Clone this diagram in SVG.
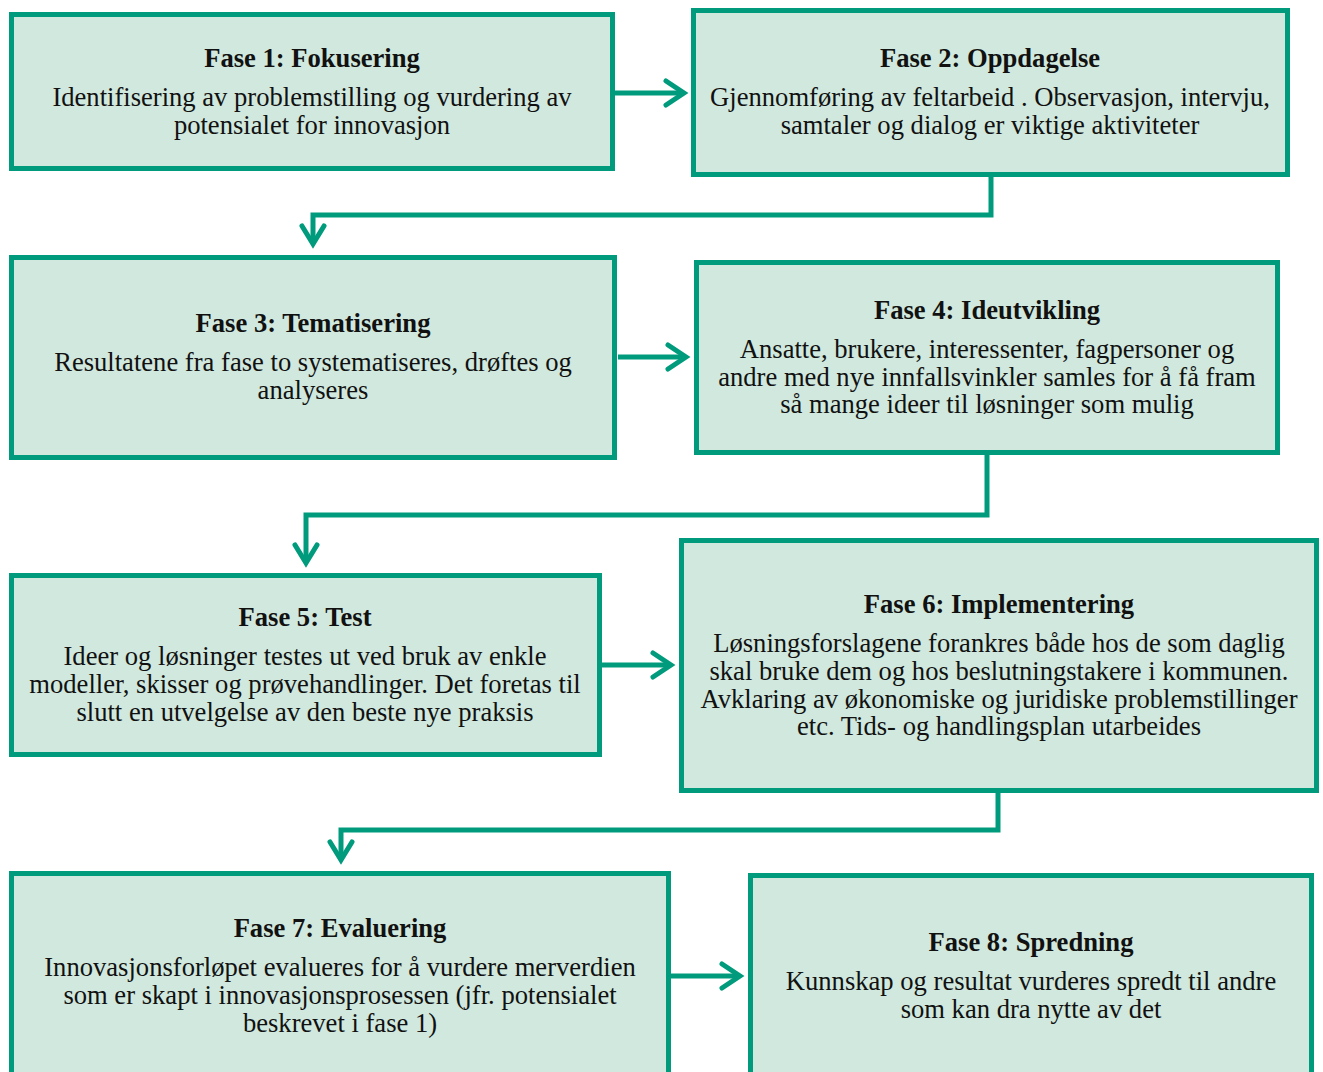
<svg xmlns="http://www.w3.org/2000/svg" width="1323" height="1072" viewBox="0 0 1323 1072">
<style>
.box{fill:#D0E8DD;stroke:#009B7D;stroke-width:5}
.con{fill:none;stroke:#009B7D;stroke-width:5;stroke-linejoin:miter}
.head{fill:none;stroke:#009B7D;stroke-width:5;stroke-linecap:round;stroke-linejoin:miter}
text{font-family:"Liberation Serif","Times New Roman",serif;font-size:26.6px;fill:#111;text-anchor:middle}
.t{font-weight:bold}
</style>
<rect width="1323" height="1072" fill="#fff"/>
<g id="connectors">
<path class="con" d="M615 93H684"/><path class="head" d="M666 81L684 93L666 105"/>
<path class="con" d="M991 177V215H313V244"/><path class="head" d="M302 226L313 244L324 226"/>
<path class="con" d="M618 357H686"/><path class="head" d="M668 345L686 357L668 369"/>
<path class="con" d="M987 455V515H306V563"/><path class="head" d="M295 545L306 563L317 545"/>
<path class="con" d="M602 665H671"/><path class="head" d="M653 653L671 665L653 677"/>
<path class="con" d="M998 793V830H341V860"/><path class="head" d="M330 842L341 860L352 842"/>
<path class="con" d="M671 976H740"/><path class="head" d="M722 964L740 976L722 988"/>
</g>
<g id="fase1">
<rect class="box" x="11.5" y="14.5" width="601" height="154"/>
<text class="t" x="312" y="67">Fase 1: Fokusering</text>
<text x="312" y="106">Identifisering av problemstilling og vurdering av</text>
<text x="312" y="134">potensialet for innovasjon</text>
</g>
<g id="fase2">
<rect class="box" x="693.5" y="10.5" width="594" height="164"/>
<text class="t" x="990" y="67">Fase 2: Oppdagelse</text>
<text x="990" y="106">Gjennomføring av feltarbeid . Observasjon, intervju,</text>
<text x="990" y="134">samtaler og dialog er viktige aktiviteter</text>
</g>
<g id="fase3">
<rect class="box" x="11.5" y="257.5" width="603" height="200"/>
<text class="t" x="313" y="332">Fase 3: Tematisering</text>
<text x="313" y="371">Resultatene fra fase to systematiseres, drøftes og</text>
<text x="313" y="399">analyseres</text>
</g>
<g id="fase4">
<rect class="box" x="696.5" y="262.5" width="581" height="190"/>
<text class="t" x="987" y="319">Fase 4: Ideutvikling</text>
<text x="987" y="358">Ansatte, brukere, interessenter, fagpersoner og</text>
<text x="987" y="386">andre med nye innfallsvinkler samles for å få fram</text>
<text x="987" y="413">så mange ideer til løsninger som mulig</text>
</g>
<g id="fase5">
<rect class="box" x="11.5" y="575.5" width="588" height="179"/>
<text class="t" x="305" y="626">Fase 5: Test</text>
<text x="305" y="665">Ideer og løsninger testes ut ved bruk av enkle</text>
<text x="305" y="693">modeller, skisser og prøvehandlinger. Det foretas til</text>
<text x="305" y="721">slutt en utvelgelse av den beste nye praksis</text>
</g>
<g id="fase6">
<rect class="box" x="681.5" y="540.5" width="635" height="250"/>
<text class="t" x="999" y="613">Fase 6: Implementering</text>
<text x="999" y="652">Løsningsforslagene forankres både hos de som daglig</text>
<text x="999" y="680">skal bruke dem og hos beslutningstakere i kommunen.</text>
<text x="999" y="708">Avklaring av økonomiske og juridiske problemstillinger</text>
<text x="999" y="735">etc. Tids- og handlingsplan utarbeides</text>
</g>
<g id="fase7">
<rect class="box" x="11.5" y="873.5" width="657" height="220"/>
<text class="t" x="340" y="937">Fase 7: Evaluering</text>
<text x="340" y="976">Innovasjonsforløpet evalueres for å vurdere merverdien</text>
<text x="340" y="1004">som er skapt i innovasjonsprosessen (jfr. potensialet</text>
<text x="340" y="1032">beskrevet i fase 1)</text>
</g>
<g id="fase8">
<rect class="box" x="750.5" y="875.5" width="561" height="220"/>
<text class="t" x="1031" y="951">Fase 8: Spredning</text>
<text x="1031" y="990">Kunnskap og resultat vurderes spredt til andre</text>
<text x="1031" y="1018">som kan dra nytte av det</text>
</g>
</svg>
